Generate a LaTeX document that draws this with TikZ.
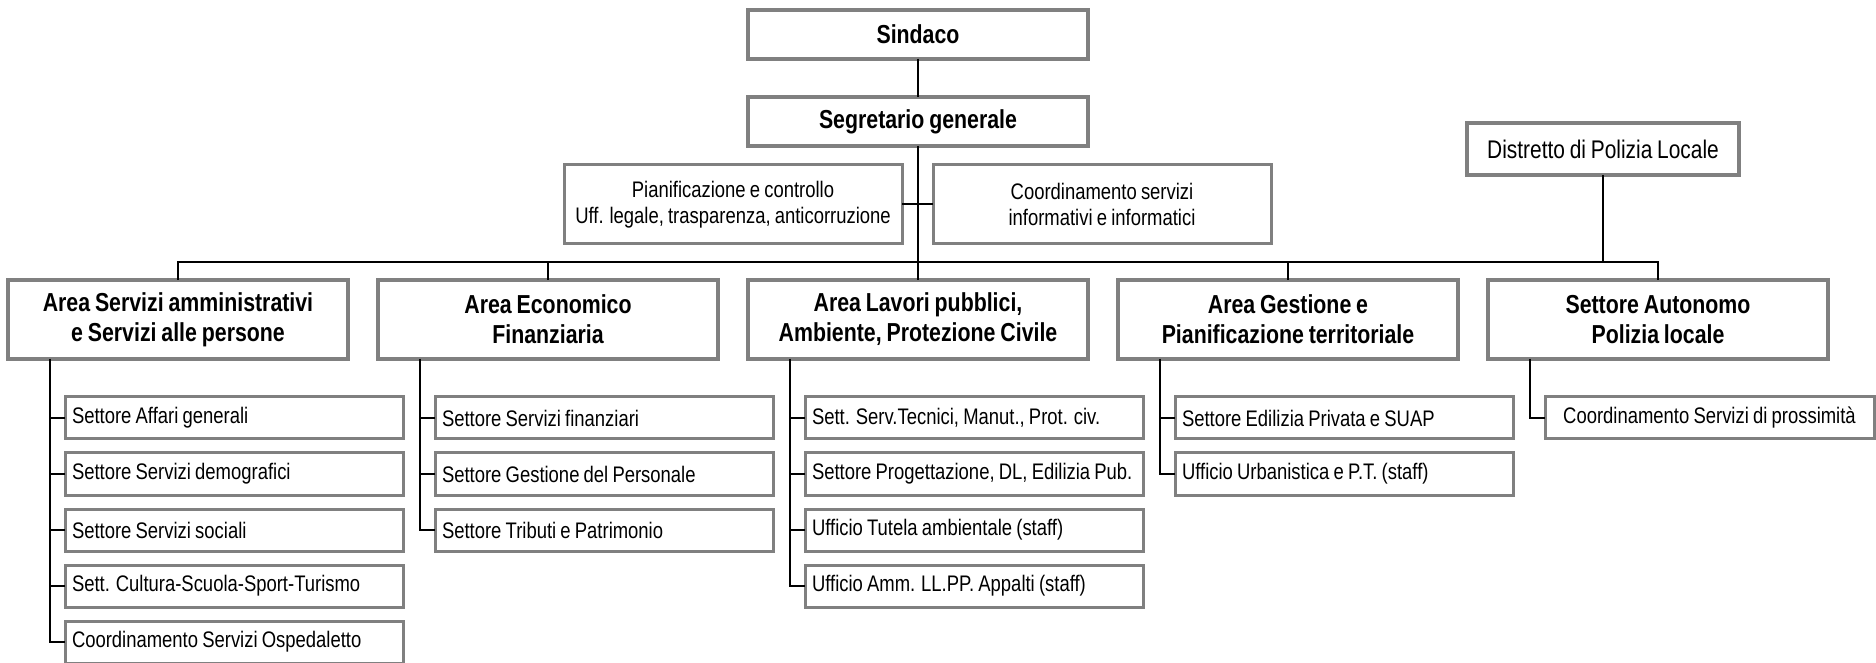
\documentclass[tikz,border=0pt]{standalone}
\usepackage{fontspec}
\setmainfont{Liberation Sans}[FakeStretch=0.82, WordSpace=0.82]
\usetikzlibrary {positioning}
\definecolor{boxgray}{RGB}{128,128,128}
\tikzset{
    base/.style={draw=boxgray, fill=white, align=center, inner sep=0pt, outer sep=0pt},
        head/.style={base, line width=2pt, minimum width=170pt,
                     font=\fontsize{13}{15}\selectfont\bfseries},
        area/.style={head, minimum height=39.5pt},
        staff/.style={base, line width=1.5pt, minimum height=39.5pt,
                      font=\fontsize{11.25}{13}\selectfont},
        unit/.style={base, line width=1.5pt, minimum height=21pt, text width=162pt,
                     inner xsep=3.5pt, align=flush left, font=\fontsize{11.25}{13}\selectfont},
        link/.style={line width=1pt},
 }

\begin{document}
\begin{tikzpicture}[x=0.5pt, y=-0.5pt]
    \useasboundingbox (0,0) rectangle (1876,663);

    \node[head, minimum height=24.5pt] (sindaco) at (918,34.5) {Sindaco};
    \node[head, minimum height=24.5pt, below=19pt of sindaco] (segretario) {Segretario generale};
    \node[staff, minimum width=169pt] (pianif) at (733,204.5) {Pianificazione e controllo\\Uff. legale, trasparenza, anticorruzione};
    \node[staff, minimum width=169pt] (coordinf) at (1102,204.5) {Coordinamento servizi\\informativi e informatici};
    \node[base, line width=2pt, minimum width=136pt, minimum height=26pt,
          font=\fontsize{12.75}{15}\selectfont] (distretto) at (1603,149) {Distretto di Polizia Locale};

    \node[area] (servizi) at (178,319.5) {Area Servizi amministrativi\\e Servizi alle persone};
    \node[area, right=15pt of servizi] (economico) {Area Economico\\Finanziaria};
    \node[area, right=15pt of economico] (lavori) {Area Lavori pubblici,\\Ambiente, Protezione Civile};
    \node[area, right=15pt of lavori] (gestione) {Area Gestione e\\Pianificazione territoriale};
    \node[area, right=15pt of gestione] (autonomo) {Settore Autonomo\\Polizia locale};

    % settori
    \node[unit, below right=19pt and 28.5pt of servizi.south west] (serv1) {Settore Affari generali};
    \node[unit, below=7pt of serv1] (serv2) {Settore Servizi demografici};
    \node[unit, below=7pt of serv2] (serv3) {Settore Servizi sociali};
    \node[unit, below=7pt of serv3] (serv4) {Sett. Cultura-Scuola-Sport-Turismo};
    \node[unit, below=7pt of serv4] (serv5) {Coordinamento Servizi Ospedaletto};

    \node[unit, below right=19pt and 28.5pt of economico.south west] (eco1) {Settore Servizi finanziari};
    \node[unit, below=7pt of eco1] (eco2) {Settore Gestione del Personale};
    \node[unit, below=7pt of eco2] (eco3) {Settore Tributi e Patrimonio};

    \node[unit, below right=19pt and 28.5pt of lavori.south west] (lav1) {Sett. Serv.Tecnici, Manut., Prot. civ.};
    \node[unit, below=7pt of lav1] (lav2) {Settore Progettazione, DL, Edilizia Pub.};
    \node[unit, below=7pt of lav2] (lav3) {Ufficio Tutela ambientale (staff)};
    \node[unit, below=7pt of lav3] (lav4) {Ufficio Amm. LL.PP. Appalti (staff)};

    \node[unit, below right=19pt and 28.5pt of gestione.south west] (ges1) {Settore Edilizia Privata e SUAP};
    \node[unit, below=7pt of ges1] (ges2) {Ufficio Urbanistica e P.T. (staff)};

    \node[unit, text width=157.5pt, align=flush center,
          below right=19pt and 28.5pt of autonomo.south west] (aut1) {Coordinamento Servizi di prossimità};

    % collegamenti
    \coordinate (bus) at (918,262);
    \draw[link] (sindaco) -- (segretario);
    \draw[link] (segretario) -- (lavori);
    \draw[link] (pianif) -- (coordinf);
    \draw[link] (servizi) |- (bus) -| (autonomo);
    \draw[link] (economico) -- (economico |- bus);
    \draw[link] (gestione) -- (gestione |- bus);
    \draw[link] (distretto) -- (distretto |- bus);

    \draw[link] ([xshift=21pt]servizi.south west) |- (serv5);
    \draw[link] (serv1.west) -- ++(-7.5pt,0);
    \draw[link] (serv2.west) -- ++(-7.5pt,0);
    \draw[link] (serv3.west) -- ++(-7.5pt,0);
    \draw[link] (serv4.west) -- ++(-7.5pt,0);
    \draw[link] ([xshift=21pt]economico.south west) |- (eco3);
    \draw[link] (eco1.west) -- ++(-7.5pt,0);
    \draw[link] (eco2.west) -- ++(-7.5pt,0);
    \draw[link] ([xshift=21pt]lavori.south west) |- (lav4);
    \draw[link] (lav1.west) -- ++(-7.5pt,0);
    \draw[link] (lav2.west) -- ++(-7.5pt,0);
    \draw[link] (lav3.west) -- ++(-7.5pt,0);
    \draw[link] ([xshift=21pt]gestione.south west) |- (ges2);
    \draw[link] (ges1.west) -- ++(-7.5pt,0);
    \draw[link] ([xshift=21pt]autonomo.south west) |- (aut1);

\end{tikzpicture}
\end{document}
